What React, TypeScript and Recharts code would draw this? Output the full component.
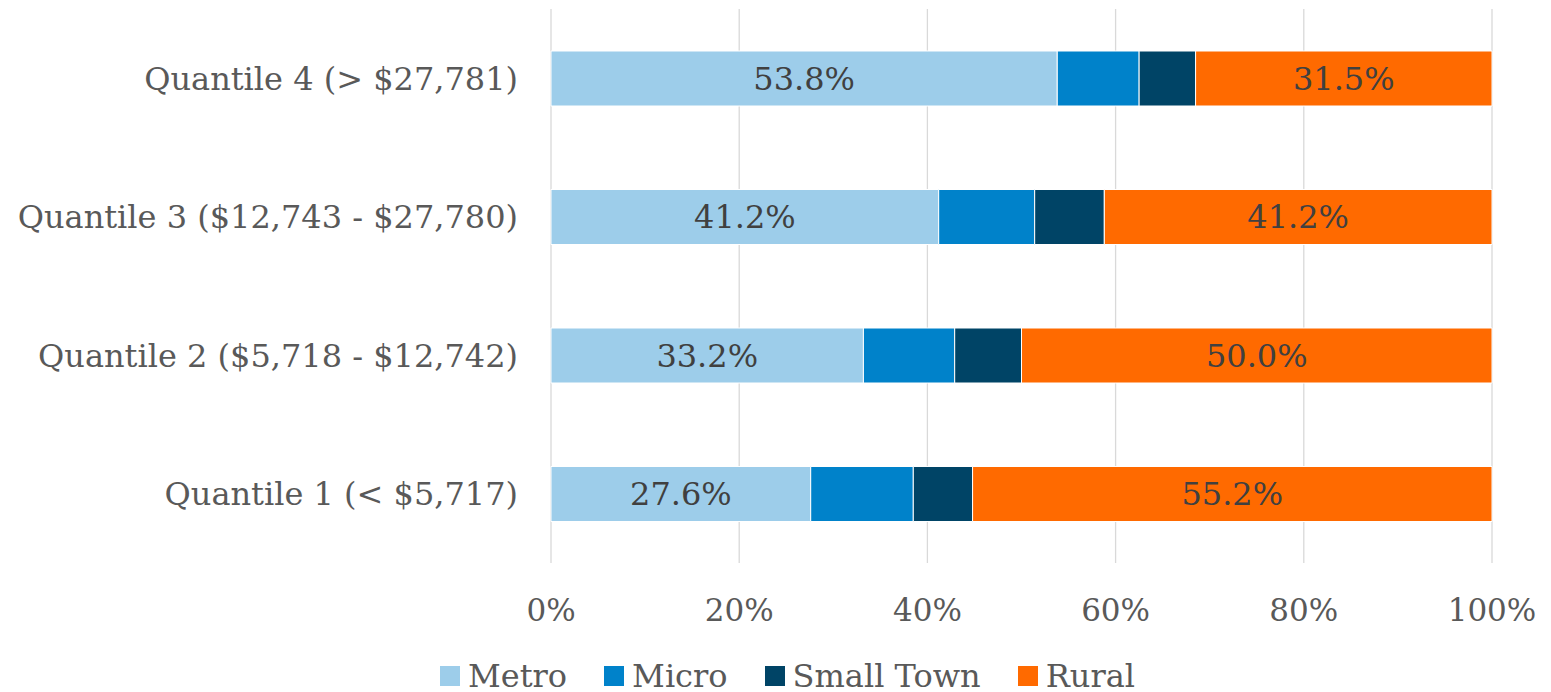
import React from 'react';
import { BarChart, Bar, XAxis, YAxis, CartesianGrid, Legend, LabelList } from 'recharts';

const categories = [
  'Quantile 1 (< $5,717)',
  'Quantile 2 ($5,718 - $12,742)',
  'Quantile 3 ($12,743 - $27,780)',
  'Quantile 4 (> $27,781)',
];
const metro = [27.6, 33.2, 41.2, 53.8];
const micro = [10.9, 9.7, 10.2, 8.7];
const smallTown = [6.3, 7.1, 7.4, 6.0];
const rural = [55.2, 50.0, 41.2, 31.5];
const xTicks = [0, 20, 40, 60, 80, 100];

const series = [
  { key: 'metro', name: 'Metro', color: '#9DCDEA' },
  { key: 'micro', name: 'Micro', color: '#0082CA' },
  { key: 'smallTown', name: 'Small Town', color: '#004466' },
  { key: 'rural', name: 'Rural', color: '#FF6A00' },
];

const data = categories.map((name, i) => ({
  name,
  metro: metro[i],
  micro: micro[i],
  smallTown: smallTown[i],
  rural: rural[i],
}));

const FONT = "'DejaVu Serif', Georgia, serif";
const pct = (v: any) => `${Number(v).toFixed(1)}%`;

const LegendBox = () => (
  <div
    style={{
      display: 'flex',
      justifyContent: 'center',
      alignItems: 'center',
      height: 32,
      paddingTop: 20,
      paddingLeft: 24,
      fontFamily: FONT,
      fontSize: 32,
      color: '#595959',
    }}
  >
    {series.map((s, i) => (
      <div key={s.key} style={{ display: 'flex', alignItems: 'center', marginLeft: i === 0 ? 0 : 37 }}>
        <span style={{ width: 20, height: 20, background: s.color, display: 'inline-block', marginRight: 8 }} />
        <span>{s.name}</span>
      </div>
    ))}
  </div>
);

export default function App() {
  return (
    <div style={{ position: 'absolute', top: 0, left: 0, background: '#fff' }}>
      <BarChart
        width={1551}
        height={692}
        data={data}
        layout="vertical"
        margin={{ top: 9, right: 59, left: 10, bottom: 0 }}
      >
        <CartesianGrid horizontal={false} stroke="#d9d9d9" strokeWidth={1.3} />
        <XAxis
          type="number"
          domain={[0, 100]}
          ticks={xTicks}
          tickFormatter={(v) => `${v}%`}
          axisLine={false}
          tickLine={false}
          tickSize={0}
          tickMargin={36}
          height={77}
          interval={0}
          tick={{ fill: '#595959', fontSize: 31, fontFamily: FONT }}
        />
        <YAxis
          type="category"
          dataKey="name"
          reversed
          width={541}
          axisLine={false}
          tickLine={false}
          tickSize={0}
          tickMargin={33}
          interval={0}
          tick={{ fill: '#595959', fontSize: 32, fontFamily: FONT }}
        />
        <Legend
          verticalAlign="bottom"
          wrapperStyle={{ left: 0, width: 1551 }}
          content={<LegendBox />}
        />
        {series.map((s) => (
          <Bar
            key={s.key}
            dataKey={s.key}
            name={s.name}
            stackId="a"
            fill={s.color}
            stroke="#fff"
            strokeWidth={1}
            barSize={55}
            isAnimationActive={false}
          >
            {(s.key === 'metro' || s.key === 'rural') && (
              <LabelList
                dataKey={s.key}
                position="center"
                formatter={pct}
                fill="#404040"
                fontSize={32}
                fontFamily={FONT}
              />
            )}
          </Bar>
        ))}
      </BarChart>
    </div>
  );
}
